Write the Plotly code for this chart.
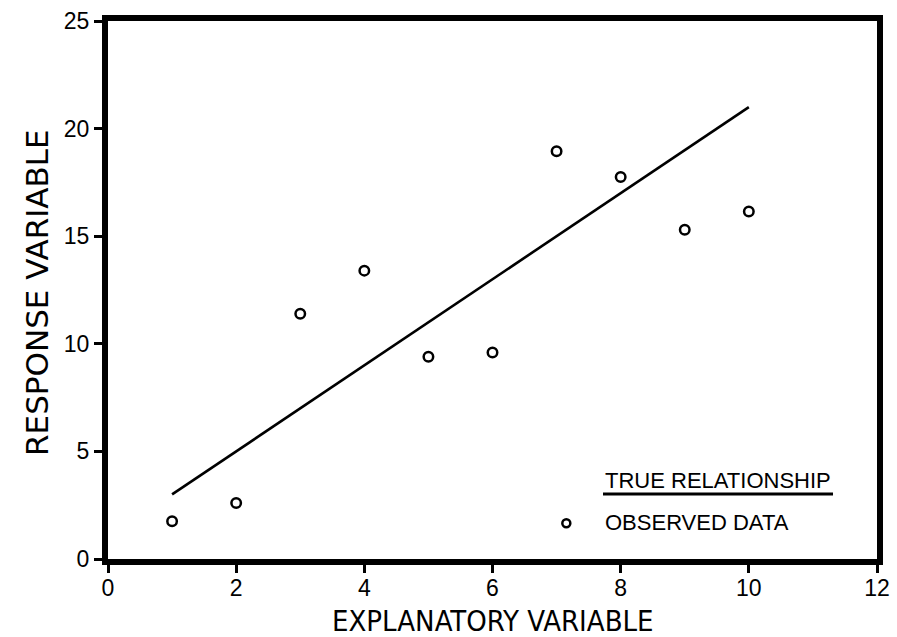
import plotly.graph_objects as go

# Explanatory values and observed responses
x_obs = [1, 2, 3, 4, 5, 6, 7, 8, 9, 10]
y_obs = [1.75, 2.6, 11.4, 13.4, 9.4, 9.6, 18.95, 17.75, 15.3, 16.15]

# True relationship: y = 1 + 2x, drawn over the observed x span
x_true = [1, 10]
y_true = [1 + 2 * v for v in x_true]

x_ticks = [0, 2, 4, 6, 8, 10, 12]
y_ticks = [0, 5, 10, 15, 20, 25]

FONT = "Liberation Sans, Arial, Helvetica, sans-serif"
NARROW = "Liberation Sans Narrow, Arial Narrow, DejaVu Sans Condensed, Liberation Sans, sans-serif"
WIDE = "DejaVu Sans, Verdana, sans-serif"

fig = go.Figure()
fig.add_trace(go.Scatter(
    x=x_true, y=y_true, mode="lines",
    line=dict(color="black", width=2.6),
    showlegend=False, hoverinfo="skip",
))
fig.add_trace(go.Scatter(
    x=x_obs, y=y_obs, mode="markers",
    marker=dict(symbol="circle-open", size=9.5, color="black", line=dict(width=2.5)),
    showlegend=False,
))

axis_common = dict(
    showline=True, linecolor="black", linewidth=6, mirror=True,
    ticks="outside", ticklen=8, tickwidth=2.5, tickcolor="black",
    showgrid=False, zeroline=False, automargin=False,
    tickfont=dict(family=FONT, size=23, color="black"),
)

fig.update_xaxes(
    range=[0, 12], tickvals=x_ticks, ticktext=[str(v) for v in x_ticks],
    ticklabelstandoff=-5,
    **axis_common,
)
fig.update_yaxes(
    range=[0, 25], tickvals=y_ticks, ticktext=[str(v) for v in y_ticks],
    **axis_common,
)

# Axis titles
fig.add_annotation(
    xref="paper", yref="paper", x=0.5, y=-0.1152, xanchor="center", yanchor="middle",
    text="EXPLANATORY VARIABLE", showarrow=False,
    font=dict(family=NARROW, size=29, color="black"),
)
fig.add_annotation(
    xref="paper", yref="paper", x=-0.0917, y=0.4954, xanchor="center", yanchor="middle",
    text="RESPONSE VARIABLE", showarrow=False, textangle=-90,
    font=dict(family=WIDE, size=31, color="black"),
)

# Legend block drawn as text with its sample glyphs
fig.add_annotation(
    xref="paper", yref="paper", x=0.644, y=0.145, xanchor="left", yanchor="middle",
    text="TRUE RELATIONSHIP", showarrow=False,
    font=dict(family=FONT, size=22, color="black"),
)
fig.add_shape(
    type="line", xref="paper", yref="paper", x0=0.6437, x1=0.9428, y0=0.1208, y1=0.1208,
    line=dict(color="black", width=3),
)
fig.add_annotation(
    xref="paper", yref="paper", x=0.644, y=0.0678, xanchor="left", yanchor="middle",
    text="OBSERVED DATA", showarrow=False,
    font=dict(family=FONT, size=22, color="black"),
)
fig.add_shape(
    type="circle", xref="paper", yref="paper",
    x0=0.5908, x1=0.6012, y0=0.0588, y1=0.0738,
    line=dict(color="black", width=2.5),
)

fig.update_layout(
    width=897, height=637,
    margin=dict(l=108, r=20, t=21, b=78),
    paper_bgcolor="white", plot_bgcolor="white",
)

fig.write_html("out.html")
